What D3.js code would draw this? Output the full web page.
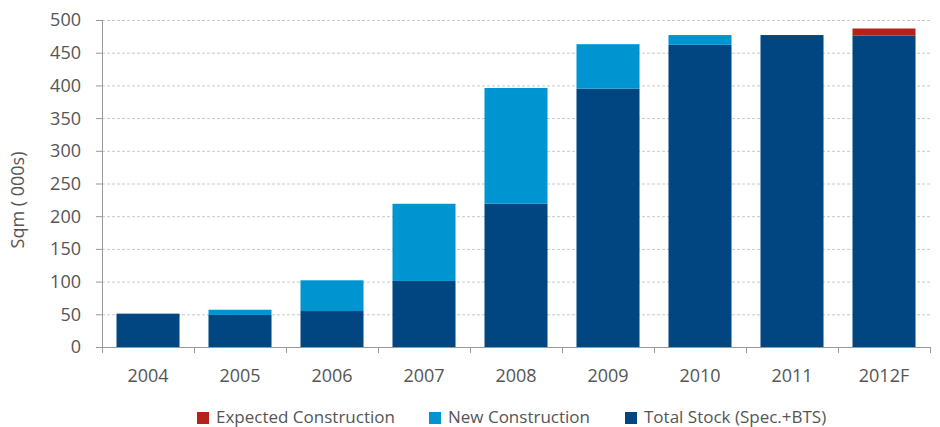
<!DOCTYPE html>
<html>
<head>
<meta charset="utf-8">
<script src="https://cdn.jsdelivr.net/npm/d3@7"></script>
<style>
  body { margin: 0; background: #fff; }
  text { font-family: "Open Sans", sans-serif; fill: #555; }
</style>
</head>
<body>
<div id="chart"></div>
<script>
const WIDTH = 940;
const HEIGHT = 427;

// data, sqm (000s)
const years = ['2004', '2005', '2006', '2007', '2008', '2009', '2010', '2011', '2012F'];
const totalStock = [51, 49, 55, 101, 219, 395, 462, 477, 476];
const newConstruction = [0, 8, 47, 118, 177, 68, 15, 0, 0];
const expectedConstruction = [0, 0, 0, 0, 0, 0, 0, 0, 11];
const yTicks = [0, 50, 100, 150, 200, 250, 300, 350, 400, 450, 500];

const seriesNames = ['Expected Construction', 'New Construction', 'Total Stock (Spec.+BTS)'];
const seriesColors = ['#b5221b', '#0095d0', '#014680'];

const margin = {top: 20, right: 10, bottom: 80, left: 102};

const svg = d3.select('#chart').append('svg')
  .attr('width', WIDTH)
  .attr('height', HEIGHT);

const x = d3.scaleBand()
  .domain(years)
  .range([margin.left, 930])
  .paddingInner(0.315)
  .paddingOuter(0.1575);

const y = d3.scaleLinear()
  .domain([0, 500])
  .range([347, margin.top]);

// gridlines
svg.append('g')
  .selectAll('line')
  .data(yTicks.filter(d => d > 0))
  .enter()
  .append('line')
  .attr('x1', margin.left)
  .attr('x2', 930)
  .attr('y1', d => y(d) + 0.5)
  .attr('y2', d => y(d) + 0.5)
  .style('stroke', '#c8c8c8')
  .style('stroke-dasharray', '3,2')
  .style('stroke-width', 1);

// stacked bars: stock at bottom, then new, then expected
const rows = years.map((yr, i) => ({
  year: yr,
  stock: totalStock[i],
  fresh: newConstruction[i],
  expected: expectedConstruction[i]
}));
const stack = d3.stack().keys(['stock', 'fresh', 'expected']);
const layers = stack(rows);
const layerColors = [seriesColors[2], seriesColors[1], seriesColors[0]];

svg.append('g')
  .selectAll('g')
  .data(layers)
  .enter()
  .append('g')
  .style('fill', (d, i) => layerColors[i])
  .selectAll('rect')
  .data(d => d)
  .enter()
  .append('rect')
  .attr('x', d => x(d.data.year))
  .attr('width', x.bandwidth())
  .attr('y', d => y(d[1]))
  .attr('height', d => y(d[0]) - y(d[1]));

// y axis
const yAxis = svg.append('g');
yAxis.append('line')
  .attr('x1', margin.left + 0.5).attr('x2', margin.left + 0.5)
  .attr('y1', y(500)).attr('y2', y(0) + 4)
  .style('stroke', '#999');
yAxis.selectAll('.ytick')
  .data(yTicks)
  .enter()
  .append('line')
  .attr('x1', 96).attr('x2', margin.left)
  .attr('y1', d => y(d) + 0.5).attr('y2', d => y(d) + 0.5)
  .style('stroke', '#999');
yAxis.selectAll('.ylabel')
  .data(yTicks)
  .enter()
  .append('text')
  .attr('x', 81)
  .attr('y', d => y(d))
  .attr('dy', '0.36em')
  .attr('text-anchor', 'end')
  .style('font-size', '18px')
  .text(d => d);

svg.append('text')
  .attr('transform', 'translate(24,200) rotate(-90)')
  .attr('text-anchor', 'middle')
  .style('font-size', '18px')
  .text('Sqm ( 000s)');

// x axis
const xAxis = svg.append('g');
xAxis.append('line')
  .attr('x1', margin.left).attr('x2', 931)
  .attr('y1', y(0) + 0.5).attr('y2', y(0) + 0.5)
  .style('stroke', '#999');
const step = x.step();
xAxis.selectAll('.xtick')
  .data(years.concat(['end']))
  .enter()
  .append('line')
  .attr('x1', (d, i) => margin.left + i * step + 0.5)
  .attr('x2', (d, i) => margin.left + i * step + 0.5)
  .attr('y1', y(0)).attr('y2', y(0) + 6)
  .style('stroke', '#999');
xAxis.selectAll('.xlabel')
  .data(years)
  .enter()
  .append('text')
  .attr('x', d => x(d) + x.bandwidth() / 2)
  .attr('y', 382)
  .attr('text-anchor', 'middle')
  .style('font-size', '18px')
  .text(d => d);

// legend
const legendX = [197, 429, 625];
const legend = svg.append('g')
  .selectAll('g')
  .data(seriesNames)
  .enter()
  .append('g')
  .attr('transform', (d, i) => 'translate(' + legendX[i] + ',412)');
legend.append('rect')
  .attr('width', 12).attr('height', 12)
  .style('fill', (d, i) => seriesColors[i]);
legend.append('text')
  .attr('x', 19).attr('y', 11)
  .style('font-size', '17px')
  .text(d => d);
</script>
</body>
</html>
